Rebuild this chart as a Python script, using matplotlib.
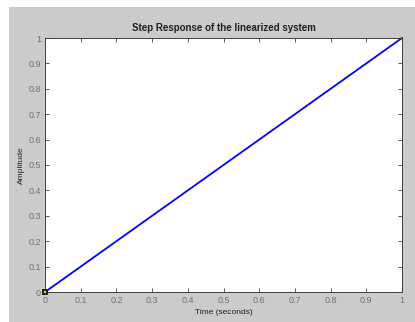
import numpy as np
import matplotlib
matplotlib.use("Agg")
import matplotlib.pyplot as plt
from matplotlib.patches import Rectangle

plt.rcParams['font.family'] = ['Liberation Sans', 'DejaVu Sans']

# step response data (linear ramp from 0 to 1)
time_s = [0.0, 1.0]
amplitude = [0.0, 1.0]
x_ticks = [0, 0.1, 0.2, 0.3, 0.4, 0.5, 0.6, 0.7, 0.8, 0.9, 1]
x_labels = ['0', '0.1', '0.2', '0.3', '0.4', '0.5', '0.6', '0.7', '0.8', '0.9', '1']
y_ticks = [0, 0.1, 0.2, 0.3, 0.4, 0.5, 0.6, 0.7, 0.8, 0.9, 1]
y_labels = ['0', '0.1', '0.2', '0.3', '0.4', '0.5', '0.6', '0.7', '0.8', '0.9', '1']

fig = plt.figure(figsize=(4.15, 3.22), dpi=100, facecolor='white')
fig.patches.append(Rectangle((9 / 415, 0), 1, 1 - 7 / 322, transform=fig.transFigure,
                             facecolor='#cbcbcb', edgecolor='none', zorder=-1))

ax = fig.add_axes([45 / 415, 30 / 322, 357 / 415, 254 / 322])
ax.set_facecolor('white')
ax.plot(time_s, amplitude, color='#0000ff', lw=1.3, clip_on=False)
ax.plot([time_s[0]], [amplitude[0]], marker='s', ms=3.5, mfc='#e8e000', mec='#202020',
        mew=1.4, clip_on=False, zorder=5)

ax.set_xlim(0, 1)
ax.set_ylim(0, 1)
ax.set_xticks(x_ticks, x_labels)
ax.set_yticks(y_ticks, y_labels)
ax.tick_params(direction='in', length=3, width=0.6, labelsize=6.5, colors='#404040',
               labelcolor='#707070', top=True, right=True, pad=3)
for s in ax.spines.values():
    s.set_color('#404040')
    s.set_linewidth(0.7)

ax.set_title('Step Response of the linearized system', fontsize=7, fontweight='bold',
             color='#202020', pad=5)
ax.set_xlabel('Time (seconds)', fontsize=6, color='#202020', labelpad=3)
ax.set_ylabel('Amplitude', fontsize=6, color='#202020', labelpad=2)

fig.savefig('out.png', dpi=100, facecolor=fig.get_facecolor())
